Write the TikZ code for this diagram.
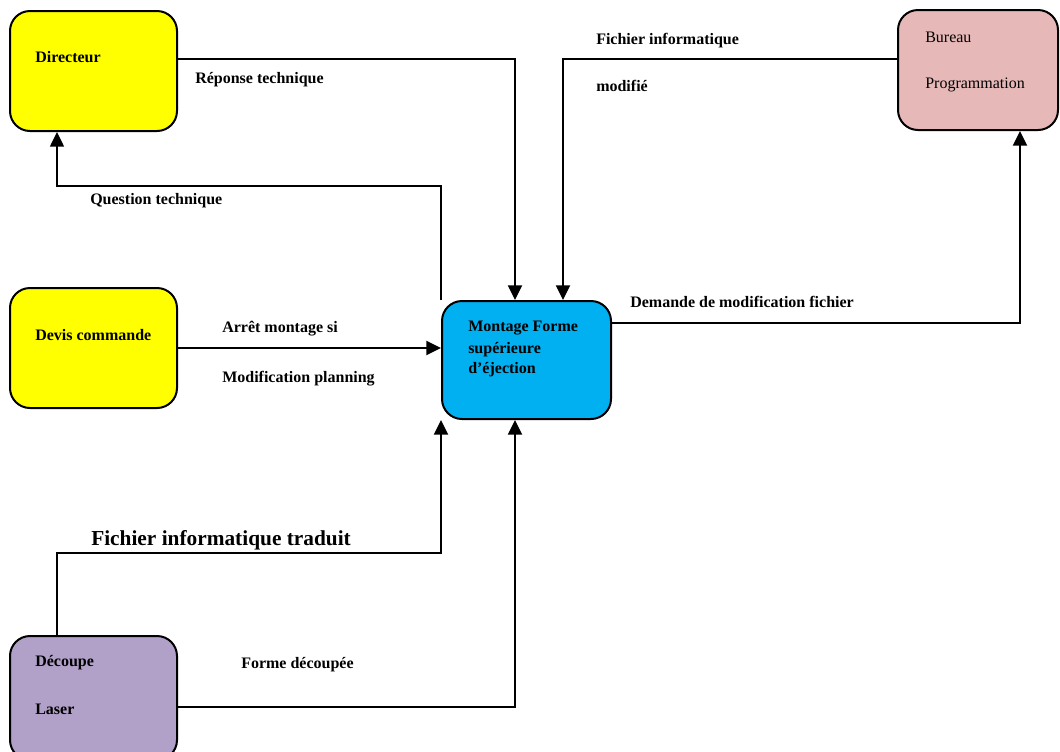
\documentclass[tikz,border=0pt]{standalone}
\usepackage{fontspec}
\setmainfont{Liberation Serif}
\usetikzlibrary{arrows.meta,calc}
\definecolor{cyellow}{HTML}{FFFF00}
\definecolor{cblue}{HTML}{00B0F0}
\definecolor{cpink}{HTML}{E6B8B7}
\definecolor{cpurple}{HTML}{B1A0C7}
\tikzset{
  box/.style={draw=black, line width=1.5pt, rounded corners=15pt, rectangle, inner sep=0pt},
  conn/.style={draw=black, line width=1.5pt},
  arr/.style={conn, -{Triangle[length=11pt,width=10.5pt]}},
  lbl/.style={anchor=base west, inner sep=0pt, font=\fontsize{12}{14}\selectfont\bfseries},
  lblr/.style={anchor=base west, inner sep=0pt, font=\fontsize{12}{14}\selectfont},
  lblbig/.style={anchor=base west, inner sep=0pt, font=\fontsize{16}{19}\selectfont\bfseries},
}
\begin{document}
\begin{tikzpicture}[x=0.75pt, y=-0.75pt]
\useasboundingbox (0,0) rectangle (1060,751);
% boxes
\node[box, fill=cyellow, minimum width=125.25pt, minimum height=90pt] (dir) at (93.5,71) {};
\node[box, fill=cyellow, minimum width=125.25pt, minimum height=90pt] (dev) at (93.5,348) {};
\node[box, fill=cpurple, minimum width=125.25pt, minimum height=93pt] (dec) at (93.5,698) {};
\node[box, fill=cblue, minimum width=126.75pt, minimum height=88.5pt] (mont) at (526.5,360) {};
\node[box, fill=cpink, minimum width=120pt, minimum height=90pt] (bur) at (978,70) {};
% box texts
\node[lbl] (tdir) at (35,62) {Directeur};
\node[lbl] (tdev) at (35,340) {Devis commande};
\node[lbl] (tdec1) at (35,666) {Découpe};
\node[lbl] (tdec2) at (35,714) {Laser};
\node[lblr] (tbur1) at (925,42) {Bureau};
\node[lblr] (tbur2) at (925,88) {Programmation};
\node[lbl] (tmont1) at (468,331) {Montage Forme};
\node[lbl] (tmont2) at (468,353) {supérieure};
\node[lbl] (tmont3) at (468,373) {d’éjection};
% connectors
\draw[arr] (dir.east |- 0,59) -| (515,0 |- mont.north);
\draw[arr, line width=1.1pt] (mont.north west) |- (57,186) -- (57,0 |- dir.south);
\draw[arr] (bur.west |- 0,59) -| (563,0 |- mont.north);
\draw[arr] (mont.east |- 0,323) -| (1020,0 |- bur.south);
\draw[arr] (dev.east |- 0,348) -- (mont.west |- 0,348);
\draw[arr] (57,0 |- dec.north) |- (mont.south west |- 0,553) -- (mont.south west);
\draw[arr] (dec.east |- 0,707) -| (515,0 |- mont.south);
% connector labels
\node[lbl] (lrep) at (195,83) {Réponse technique};
\node[lbl] (lques) at (90,204) {Question technique};
\node[lbl] (lfich1) at (596,44) {Fichier informatique};
\node[lbl] (lfich2) at (596,91) {modifié};
\node[lbl] (ldem) at (630,307) {Demande de modification fichier};
\node[lbl] (larr1) at (222,332) {Arrêt montage si};
\node[lbl] (larr2) at (222,382) {Modification planning};
\node[lblbig] (ltrad) at (91,545) {Fichier informatique traduit};
\node[lbl] (lforme) at (241,668) {Forme découpée};
\end{tikzpicture}
\end{document}
